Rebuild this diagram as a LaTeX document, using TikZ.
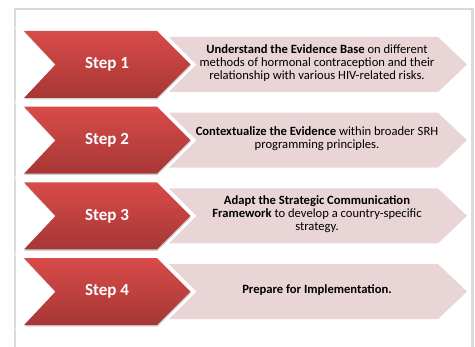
\documentclass[tikz,border=0pt]{standalone}
\usepackage{fontspec}
\setmainfont{Carlito}
\definecolor{redtop}{HTML}{D84B49}
\definecolor{redbot}{HTML}{A63735}
\definecolor{pinkfill}{HTML}{E9D5D6}
\definecolor{framegray}{HTML}{DADADA}
\tikzset{
  pinkshape/.style={fill=pinkfill},
  redhalo/.style={draw=white, line width=8pt, line join=miter},
  redshadow/.style={fill=black!35, opacity=0.5},
  redshape/.style={top color=redtop, bottom color=redbot},
  steplabel/.style={text=white, font=\fontsize{17}{19}\selectfont\bfseries, anchor=center},
  desclabel/.style={text=black, align=center, font=\fontsize{12.6}{12.8}\selectfont, anchor=center}
}
\newcommand{\stepchev}[1]{%
  \fill[pinkshape] (168,#1+6) -- (438,#1+6) -- (467,#1+33.5) -- (438,#1+61) -- (168,#1+61) -- cycle;
  \path[redhalo] (24,#1) -- (157,#1) -- (190.5,#1+33.5) -- (157,#1+67) -- (24,#1+67) -- (55.5,#1+33.5) -- cycle;
  \fill[redshadow] (24.5,#1+1.5) -- (157.5,#1+1.5) -- (191,#1+35) -- (157.5,#1+68.5) -- (24.5,#1+68.5) -- (56,#1+35) -- cycle;
  \path[redshape] (24,#1) -- (157,#1) -- (190.5,#1+33.5) -- (157,#1+67) -- (24,#1+67) -- (55.5,#1+33.5) -- cycle;
}
\begin{document}
\begin{tikzpicture}[x=1pt,y=-1pt]
\useasboundingbox (0,0) rectangle (475,347);
\draw[framegray, line width=2.5pt] (15,350) -- (15,9) -- (472.5,9) -- (472.5,350);
\stepchev{31}
\stepchev{106.7}
\stepchev{182.4}
\stepchev{258.1}
\node[steplabel] (s1) at (107,64.5) {Step 1};
\node[steplabel] (s2) at (107,140.2) {Step 2};
\node[steplabel] (s3) at (107,215.9) {Step 3};
\node[steplabel] (s4) at (107,291.6) {Step 4};
\node[desclabel] (d1) at (317,63) {\textbf{Understand the Evidence Base} on different\\methods of hormonal contraception and their\\relationship with various HIV-related risks.};
\node[desclabel] (d2) at (317,138.7) {\textbf{Contextualize the Evidence} within broader SRH\\programming principles.};
\node[desclabel] (d3) at (317,214.4) {\textbf{Adapt the Strategic Communication}\\\textbf{Framework} to develop a country-specific\\strategy.};
\node[desclabel] (d4) at (317,290.1) {\textbf{Prepare for Implementation.}};
\end{tikzpicture}
\end{document}
